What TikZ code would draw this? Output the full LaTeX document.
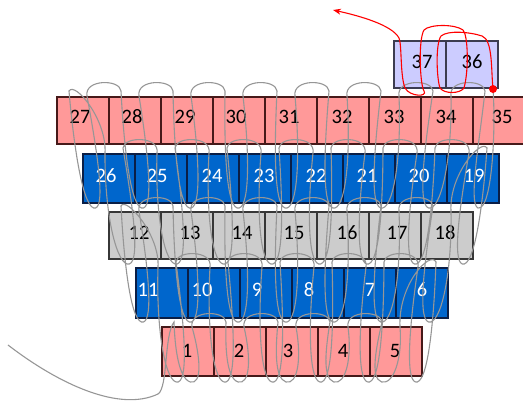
\documentclass[tikz,border=0pt]{standalone}
\usepackage{fontspec}
\setmainfont{Carlito}
\usetikzlibrary{arrows.meta}
\definecolor{pinkfill}{RGB}{255,153,153}
\definecolor{pinkline}{RGB}{70,25,25}
\definecolor{bluefill}{RGB}{0,102,204}
\definecolor{blueline}{RGB}{10,30,70}
\definecolor{greyfill}{RGB}{204,204,204}
\definecolor{greyline}{RGB}{55,55,55}
\definecolor{lavfill}{RGB}{204,204,255}
\definecolor{lavline}{RGB}{60,60,80}
\definecolor{yarn}{RGB}{150,150,150}
\tikzset{
  pinkbox/.style={draw=pinkline, fill=pinkfill, line width=1.4pt},
  bluebox/.style={draw=blueline, fill=bluefill, line width=1.4pt},
  greybox/.style={draw=greyline, fill=greyfill, line width=1.4pt},
  lavbox/.style={draw=lavline, fill=lavfill, line width=1.4pt},
  num/.style={inner sep=0pt, font=\fontsize{20.5}{20.5}\selectfont},
  wnum/.style={num, text=white},
  yarnline/.style={draw=yarn, line width=1.1pt},
  redline/.style={draw=red, line width=1.1pt}
}
% one stitch worked left to right, box left edge #1, loop top #2, loop bottom #3
% (the loop leans towards the middle of the work, x = 290)
\newcommand\stitchRend[3]{%
  .. controls ({#1+9+0.03*(290-#1)},{#2+0.4*(#3-#2)}) and ({#1+6+0.08*(290-#1)},{#3-4}) .. ({#1+18+0.08*(290-#1)},{#3})
  .. controls ({#1+30+0.08*(290-#1)},{#3+3}) and ({#1+35+0.03*(290-#1)},{#2+0.6*(#3-#2)}) .. ({#1+30},{#2+5})}
\newcommand\stitchR[3]{\stitchRend{#1}{#2}{#3}
  .. controls ({#1+27},{#2-12}) and ({#1+63},{#2-12}) .. ({#1+64},{#2})}
% same, worked right to left, box right edge #1
\newcommand\stitchLend[3]{%
  .. controls ({#1-9+0.03*(290-#1)},{#2+0.4*(#3-#2)}) and ({#1-6+0.08*(290-#1)},{#3-4}) .. ({#1-18+0.08*(290-#1)},{#3})
  .. controls ({#1-30+0.08*(290-#1)},{#3+3}) and ({#1-35+0.03*(290-#1)},{#2+0.6*(#3-#2)}) .. ({#1-30},{#2+5})}
\newcommand\stitchL[3]{\stitchLend{#1}{#2}{#3}
  .. controls ({#1-27},{#2-12}) and ({#1-63},{#2-12}) .. ({#1-64},{#2})}

\begin{document}
\begin{tikzpicture}[x=1pt, y=-1pt]
	\useasboundingbox (0,0) rectangle (523,401);
	%%%%% boxes %%%%%
	% row 1
	\foreach \n/\l/\t in {1/162/187, 2/214/239, 3/266/288, 4/318/343, 5/370/395}{
		\draw[pinkbox] (\l,327) rectangle ++(52,49);
		\node[num] (n\n) at (\t,351) {\n};
	}
	% row 2
	\foreach \n/\l/\t in {11/136/148, 10/188/202, 9/240/257, 8/292/309, 7/344/370, 6/396/422}{
		\draw[bluebox] (\l,268) rectangle ++(52,50);
		\node[wnum] (n\n) at (\t,290) {\n};
	}
	% row 3
	\foreach \n/\l/\t in {12/109/139, 13/161/190, 14/213/242, 15/265/294, 16/317/347, 17/369/397, 18/421/445}{
		\draw[greybox] (\l,212) rectangle ++(52,47);
		\node[num] (n\n) at (\t,233) {\n};
	}
	% row 4
	\foreach \n/\l/\t in {26/83/106, 25/135/157, 24/187/212, 23/239/264, 22/291/316, 21/343/367, 20/395/419, 19/447/474}{
		\draw[bluebox] (\l,154) rectangle ++(52,49);
		\node[wnum] (n\n) at (\t,176) {\n};
	}
	% row 5
	\foreach \n/\l/\t in {27/57/80, 28/109/132, 29/161/185, 30/213/236, 31/265/289, 32/317/342, 33/369/394, 34/421/446, 35/473/502}{
		\draw[pinkbox] (\l,97) rectangle ++(52,47);
		\node[num] (n\n) at (\t,117) {\n};
	}
	% row 6
	\foreach \n/\l/\t in {37/394/422, 36/446/472}{
		\draw[lavbox] (\l,41) rectangle ++(52,47);
		\node[num] (n\n) at (\t,62) {\n};
	}
	%%%%% yarn %%%%%
	\coordinate (tail) at (8,345);
	\coordinate (turn) at (493,89);
	\draw[yarnline] (tail) .. controls (60,385) and (120,412) .. (158,394)
		.. controls (168,388) and (164,335) .. (174,322)
		\foreach \l in {162,214,...,318}{\stitchR{\l}{322}{382}} \stitchRend{370}{322}{382}
		.. controls (398,285) and (430,250) .. (436,262)
		\foreach \r in {448,396,...,240}{\stitchL{\r}{262}{382}} \stitchLend{188}{262}{382}
		.. controls (160,235) and (126,196) .. (121,206)
		\foreach \l in {109,161,...,369}{\stitchR{\l}{206}{322}} \stitchRend{421}{206}{322}
		.. controls (449,175) and (481,138) .. (487,148)
		\foreach \r in {499,447,...,187}{\stitchL{\r}{148}{264}} \stitchLend{135}{148}{264}
		.. controls (107,120) and (75,81) .. (69,91)
		\foreach \l in {57,109,...,421}{\stitchR{\l}{91}{208}}
		.. controls (480,138) and (468,204) .. (478,208)
		.. controls (492,211) and (496,130) .. (turn);
	% last row in red
	\coordinate (away) at (333,10);
	\fill[red] (turn) circle (4);
	\draw[redline, -{Stealth[length=8pt, width=6pt]}] (turn)
		.. controls (491,70) and (493,40) .. (482,36)
		.. controls (470,32) and (448,30) .. (441,36)
		.. controls (435,45) and (437,80) .. (440,88)
		.. controls (444,94) and (460,94) .. (464,88)
		.. controls (469,70) and (468,35) .. (463,30)
		.. controls (455,24) and (430,24) .. (424,30)
		.. controls (418,40) and (420,85) .. (424,91)
		.. controls (428,97) and (410,97) .. (405,88)
		.. controls (400,75) and (402,45) .. (399,38)
		.. controls (392,25) and (360,16) .. (away);
\end{tikzpicture}
\end{document}
